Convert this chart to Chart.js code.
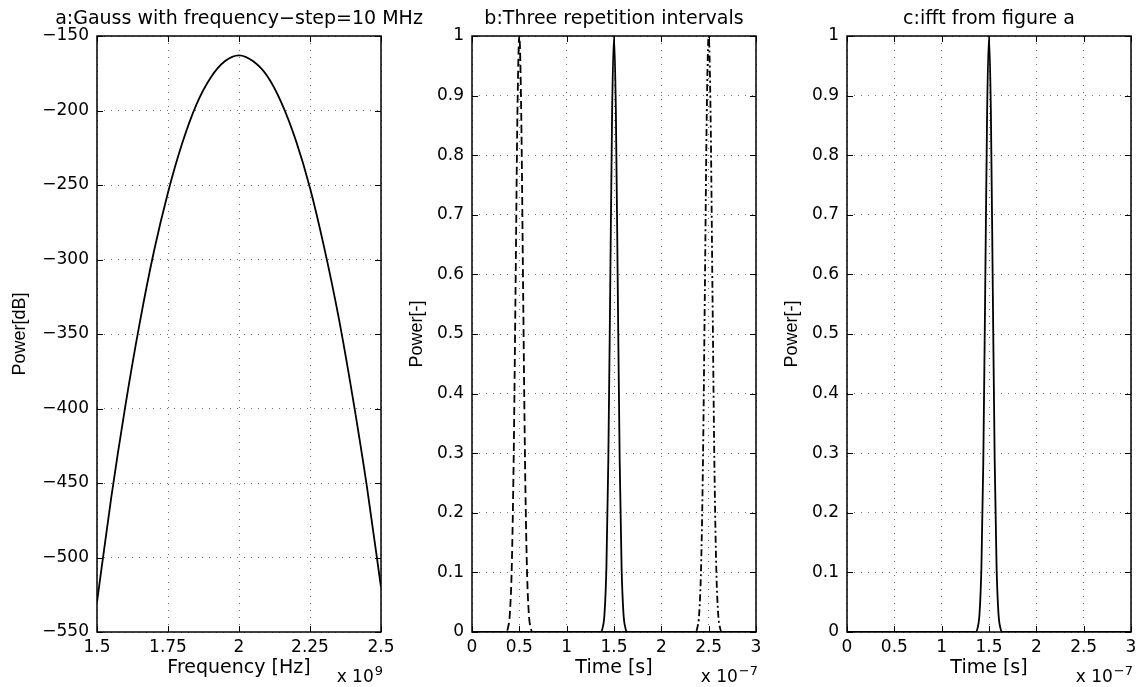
<!DOCTYPE html>
<html>
<head>
<meta charset="utf-8">
<script src="https://cdn.jsdelivr.net/npm/chart.js"></script>
<style>
    html, body { margin: 0; padding: 0; background: #fff; overflow: hidden; }
    .panel { position: absolute; left: 0; top: 0; width: 1147px; height: 687px; }
</style>
</head>
<body>
<div class="panel"><canvas id="chart-a" width="1147" height="687"></canvas></div>
<div class="panel"><canvas id="chart-b" width="1147" height="687"></canvas></div>
<div class="panel"><canvas id="chart-c" width="1147" height="687"></canvas></div>
<script>
// tick labels
const freqTicks = [1.5, 1.75, 2, 2.25, 2.5];
const powerDbTicks = [-550, -500, -450, -400, -350, -300, -250, -200, -150];
const timeTicks = [0, 0.5, 1, 1.5, 2, 2.5, 3];
const powerTicks = [0, 0.1, 0.2, 0.3, 0.4, 0.5, 0.6, 0.7, 0.8, 0.9, 1];

// a: gauss spectrum (x 10^9 Hz, dB)
const frequency = [1.5, 1.55, 1.6, 1.65, 1.7, 1.75, 1.8, 1.85, 1.9, 1.95, 2,
                   2.05, 2.1, 2.15, 2.2, 2.25, 2.3, 2.35, 2.4, 2.45, 2.5];
const gaussDb = [-530, -460, -398, -343, -295, -255, -222, -196, -178, -167, -163,
                 -167, -177, -195, -220, -252, -292, -338, -392, -452, -520];

// b / c: pulses (x 10^-7 s)
const timeFirst = [0, 0.36, 0.38, 0.4, 0.42, 0.44, 0.46, 0.48, 0.5, 0.52, 0.54, 0.56, 0.58, 0.6, 0.62, 0.64, 3];
const timeMiddle = [0, 1.36, 1.38, 1.4, 1.42, 1.44, 1.46, 1.48, 1.5, 1.52, 1.54, 1.56, 1.58, 1.6, 1.62, 1.64, 3];
const timeLast = [0, 2.36, 2.38, 2.4, 2.42, 2.44, 2.46, 2.48, 2.5, 2.52, 2.54, 2.56, 2.58, 2.6, 2.62, 2.64, 3];
const pulsePower = [0, 0, 0.007, 0.031, 0.109, 0.288, 0.575, 0.871, 1, 0.871, 0.575, 0.288, 0.109, 0.031, 0.007, 0, 0];

const FONT = 'DejaVu Sans';

function points(xs, ys) {
    return xs.map((x, i) => ({ x: x, y: ys[i] }));
}

function fmt(v) {
    return String(v).replace('-', '\u2212');
}

const framePlugin = {
    id: 'frame',
    afterDatasetsDraw(chart) {
        const { ctx, chartArea: a, scales: { x, y } } = chart;
        ctx.save();
        ctx.strokeStyle = '#000';
        ctx.lineWidth = 1;
        ctx.beginPath();
        x.ticks.forEach(t => {
            const px = Math.round(x.getPixelForValue(t.value)) + 0.5;
            ctx.moveTo(px, a.bottom); ctx.lineTo(px, a.bottom - 6);
            ctx.moveTo(px, a.top); ctx.lineTo(px, a.top + 6);
        });
        y.ticks.forEach(t => {
            const py = Math.round(y.getPixelForValue(t.value)) + 0.5;
            ctx.moveTo(a.left, py); ctx.lineTo(a.left + 6, py);
            ctx.moveTo(a.right, py); ctx.lineTo(a.right - 6, py);
        });
        ctx.stroke();
        ctx.lineWidth = 1.5;
        ctx.strokeRect(a.left, a.top, a.right - a.left, a.bottom - a.top);
        ctx.restore();
    },
    afterDraw(chart, args, opts) {
        const { ctx, chartArea: a } = chart;
        ctx.save();
        ctx.fillStyle = '#000';
        // title
        ctx.font = '19px "' + FONT + '"';
        ctx.textAlign = 'center';
        ctx.textBaseline = 'middle';
        ctx.fillText(opts.title, (a.left + a.right) / 2, 19);
        // exponent under the x axis
        ctx.textAlign = 'left';
        ctx.textBaseline = 'alphabetic';
        ctx.font = '17px "' + FONT + '"';
        const base = 'x 10';
        const wb = ctx.measureText(base).width;
        ctx.font = '13px "' + FONT + '"';
        const ws = ctx.measureText(opts.exponent).width;
        const x0 = a.right + 1 - wb - ws;
        ctx.font = '17px "' + FONT + '"';
        ctx.fillText(base, x0, a.bottom + 50);
        ctx.font = '13px "' + FONT + '"';
        ctx.fillText(opts.exponent, x0 + wb + 1, a.bottom + 43);
        ctx.restore();
    }
};

function makePanel(id, p) {
    new Chart(document.getElementById(id), {
        type: 'scatter',
        data: { datasets: p.datasets },
        options: {
            responsive: false,
            devicePixelRatio: 1,
            animation: false,
            events: [],
            layout: { padding: { left: p.padLeft, right: 1147 - p.plotRight, top: 36, bottom: 0 } },
            elements: {
                point: { radius: 0 },
                line: { borderWidth: 1.8, borderColor: '#000', cubicInterpolationMode: 'monotone' }
            },
            plugins: {
                legend: { display: false },
                tooltip: { enabled: false },
                frame: { title: p.title, exponent: p.exponent }
            },
            scales: {
                x: {
                    type: 'linear',
                    min: p.xTicks[0],
                    max: p.xTicks[p.xTicks.length - 1],
                    afterBuildTicks: s => { s.ticks = p.xTicks.map(v => ({ value: v })); },
                    afterFit: s => { s.height = 55; },
                    ticks: {
                        callback: v => fmt(v),
                        padding: 5,
                        color: '#000',
                        maxRotation: 0,
                        autoSkip: false,
                        font: { family: FONT, size: 17 }
                    },
                    grid: { color: 'rgba(0,0,0,0.55)', lineWidth: 1, drawTicks: false },
                    border: { display: false, dash: [1, 6] },
                    title: {
                        display: true,
                        text: p.xTitle,
                        color: '#000',
                        font: { family: FONT, size: 19 },
                        padding: { top: 0, bottom: 8 }
                    }
                },
                y: {
                    type: 'linear',
                    min: p.yTicks[0],
                    max: p.yTicks[p.yTicks.length - 1],
                    afterBuildTicks: s => { s.ticks = p.yTicks.map(v => ({ value: v })); },
                    afterFit: s => { s.width = p.yWidth; },
                    ticks: {
                        callback: v => fmt(v),
                        padding: 8,
                        color: '#000',
                        autoSkip: false,
                        font: { family: FONT, size: 17 }
                    },
                    grid: { color: 'rgba(0,0,0,0.55)', lineWidth: 1, drawTicks: false },
                    border: { display: false, dash: [1, 6] },
                    title: {
                        display: true,
                        text: p.yTitle,
                        color: '#000',
                        font: { family: 'Liberation Sans', size: 18 },
                        padding: { top: 0, bottom: 0 }
                    }
                }
            }
        },
        plugins: [framePlugin]
    });
}

makePanel('chart-a', {
    title: 'a:Gauss with frequency\u2212step=10 MHz',
    xTitle: 'Frequency [Hz]',
    yTitle: 'Power[dB]',
    exponent: '9',
    xTicks: freqTicks,
    yTicks: powerDbTicks,
    padLeft: 9,
    yWidth: 88,
    plotRight: 381,
    datasets: [
        { data: points(frequency, gaussDb), showLine: true }
    ]
});

makePanel('chart-b', {
    title: 'b:Three repetition intervals',
    xTitle: 'Time [s]',
    yTitle: 'Power[-]',
    exponent: '\u22127',
    xTicks: timeTicks,
    yTicks: powerTicks,
    padLeft: 406,
    yWidth: 66,
    plotRight: 756,
    datasets: [
        { data: points(timeFirst, pulsePower), showLine: true, borderDash: [8, 4] },
        { data: points(timeMiddle, pulsePower), showLine: true },
        { data: points(timeLast, pulsePower), showLine: true, borderDash: [7, 3, 2, 3] }
    ]
});

makePanel('chart-c', {
    title: 'c:ifft from figure a',
    xTitle: 'Time [s]',
    yTitle: 'Power[-]',
    exponent: '\u22127',
    xTicks: timeTicks,
    yTicks: powerTicks,
    padLeft: 781,
    yWidth: 66,
    plotRight: 1131,
    datasets: [
        { data: points(timeMiddle, pulsePower), showLine: true }
    ]
});
</script>
</body>
</html>
